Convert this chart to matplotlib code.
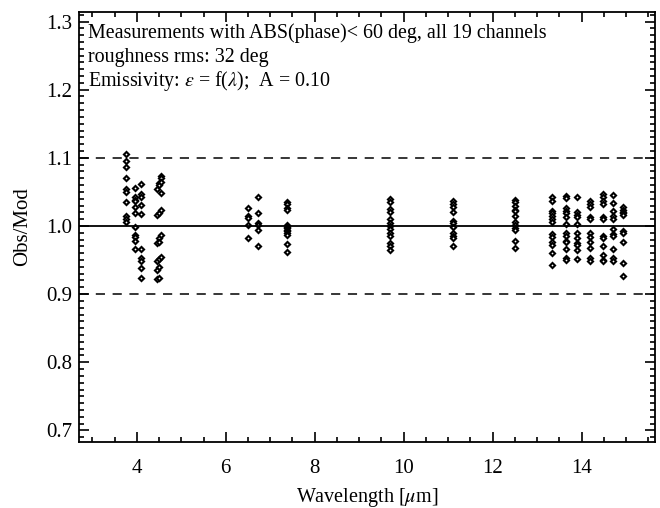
import numpy as np
import matplotlib
matplotlib.use('Agg')
import matplotlib.pyplot as plt
from matplotlib.ticker import MultipleLocator, FormatStrFormatter

plt.rcParams['font.family'] = ['Liberation Serif', 'DejaVu Serif']
plt.rcParams['mathtext.fontset'] = 'stix'

# Obs/Mod por canal (longitud de onda en micras)
canales = [3.75, 3.95, 4.1, 4.45, 4.5, 4.55,
           6.5, 6.72, 7.37,
           9.7, 11.1, 12.5,
           13.33, 13.64, 13.9, 14.18, 14.47, 14.7, 14.93]

ratios = [
    [1.105, 1.095, 1.087, 1.071, 1.054, 1.05, 1.035, 1.014, 1.01, 1.006],
    [1.056, 1.042, 1.038, 1.036, 1.028, 1.019, 0.998, 0.987, 0.984, 0.978, 0.966],
    [1.061, 1.047, 1.043, 1.031, 1.018, 0.966, 0.953, 0.949, 0.938, 0.923],
    [1.054, 1.016, 0.975, 0.949, 0.935, 0.922],
    [1.063, 1.060, 1.019, 0.982, 0.977, 0.951, 0.94, 0.923],
    [1.073, 1.070, 1.065, 1.049, 1.023, 0.987, 0.954],
    [1.027, 1.014, 1.012, 1.002, 0.982],
    [1.043, 1.019, 1.005, 1.002, 0.994, 0.970],
    [1.035, 1.032, 1.027, 1.023, 1.002, 0.999, 0.997, 0.994, 0.992, 0.989, 0.987, 0.973, 0.962],
    [1.040, 1.035, 1.025, 1.020, 1.010, 1.005, 1.0, 0.995, 0.99, 0.985, 0.975, 0.970, 0.965],
    [1.036, 1.032, 1.028, 1.020, 1.007, 1.005, 0.999, 0.989, 0.986, 0.983, 0.970],
    [1.038, 1.035, 1.030, 1.023, 1.022, 1.015, 1.006, 1.001, 0.997, 0.994, 0.978, 0.967],
    [1.042, 1.037, 1.022, 1.019, 1.015, 1.010, 1.006, 0.988, 0.984, 0.976, 0.972, 0.961, 0.943],
    [1.044, 1.041, 1.026, 1.022, 1.019, 1.013, 1.003, 0.989, 0.985, 0.978, 0.976, 0.966, 0.953, 0.950],
    [1.042, 1.020, 1.016, 1.013, 1.003, 0.989, 0.982, 0.975, 0.972, 0.965, 0.951],
    [1.036, 1.032, 1.028, 1.013, 1.010, 0.989, 0.984, 0.977, 0.967, 0.953, 0.948],
    [1.047, 1.043, 1.036, 1.032, 1.013, 1.010, 0.985, 0.982, 0.970, 0.957, 0.950, 0.948],
    [1.045, 1.033, 1.022, 1.014, 1.010, 0.995, 0.988, 0.985, 0.966, 0.953, 0.949],
    [1.028, 1.024, 1.021, 1.019, 1.016, 0.992, 0.989, 0.977, 0.945, 0.926],
]

fig = plt.figure(figsize=(6.6, 5.08), dpi=100)
ax = fig.add_axes([0.1197, 0.1299, 0.8727, 0.8465])

for lam, vals in zip(canales, ratios):
    ax.plot([lam] * len(vals), vals, linestyle='none', marker='D', ms=2.6,
            mfc='white', mec='black', mew=1.5)

ax.axhline(1.0, color='black', lw=1.3)
ax.axhline(1.1, color='black', lw=1.1, dashes=(6, 5))
ax.axhline(0.9, color='black', lw=1.1, dashes=(6, 5))

ax.set_xlim(2.7, 15.65)
ax.set_ylim(0.683, 1.314)
ax.xaxis.set_major_locator(MultipleLocator(2))
ax.xaxis.set_minor_locator(MultipleLocator(0.5))
ax.yaxis.set_major_locator(MultipleLocator(0.1))
ax.yaxis.set_minor_locator(MultipleLocator(0.01))
ax.yaxis.set_major_formatter(FormatStrFormatter('%.1f'))
ax.tick_params(which='both', direction='in', top=True, right=True, labelsize=15, width=1.2)
ax.tick_params(which='major', length=7.5)
ax.tick_params(which='minor', length=3.8)
ax.tick_params(axis='x', pad=12)
ax.tick_params(axis='y', pad=5)
for s in ax.spines.values():
    s.set_linewidth(1.3)

ax.set_xlabel(r'Wavelength [$\mu$m]', fontsize=14.5, labelpad=6)
ax.set_ylabel('Obs/Mod', fontsize=15, labelpad=10)

# tres lineas de texto, alineadas por la linea base
ax.text(0.015, 0.9395, 'Measurements with ABS(phase)< 60 deg, all 19 channels',
        transform=ax.transAxes, fontsize=14.4, va='baseline')
ax.text(0.015, 0.8837, 'roughness rms: 32 deg',
        transform=ax.transAxes, fontsize=14.4, va='baseline')
ax.text(0.015, 0.828, r'Emissivity: $\varepsilon$ = f($\lambda$);  A = 0.10',
        transform=ax.transAxes, fontsize=14.4, va='baseline')

fig.savefig('out.png', dpi=100)
